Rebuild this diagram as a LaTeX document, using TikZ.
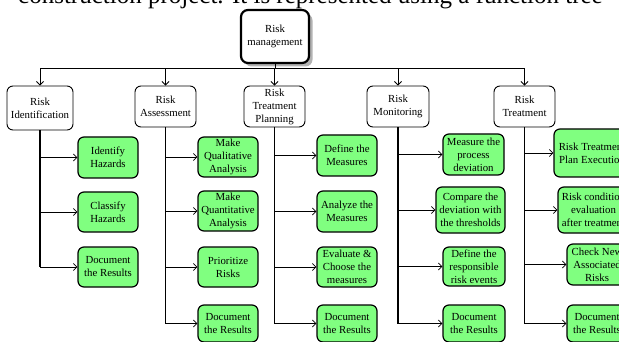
\documentclass[tikz,border=0pt]{standalone}
\usepackage{fontspec}
\setmainfont{Liberation Serif}
\usetikzlibrary{arrows.meta,shadows}
\definecolor{leafgreen}{RGB}{128,255,128}
\tikzset{
  root/.style={draw, line width=2.2pt, rounded corners=7pt, fill=white,
    align=center, inner sep=1pt, minimum width=68pt, minimum height=53pt,
    drop shadow={shadow xshift=3.5pt, shadow yshift=-3.5pt, fill=gray!60, opacity=1}},
  phase/.style={draw, line width=0.9pt, rounded corners=6pt, fill=white,
    align=center, inner sep=1pt, minimum height=41pt},
  leaf/.style={draw, line width=1.2pt, rounded corners=6pt, fill=leafgreen,
    align=center, inner sep=1pt},
  stem/.style={line width=1.3pt},
  branch/.style={line width=0.8pt, -{Straight Barb[length=3.5pt,width=7pt]}},
  down/.style={line width=0.8pt, -{Straight Barb[length=3.5pt,width=7pt]}},
}
\begin{document}
\begin{tikzpicture}[x=1pt, y=-1pt, font=\fontsize{10.8}{13}\selectfont]
\clip (0,0) rectangle (619,342);

% running text of the surrounding page
\node[anchor=base west, inner sep=0pt, font=\fontsize{25}{30}\selectfont]
  (caption) at (18,4) {construction project. It is represented using a function tree};

% root
\node[root] (top) at (275,36.5) {Risk\\management};

% phases
\node[phase, minimum width=66pt, minimum height=44pt] (l1) at (40,108) {Risk\\Identification};
\node[phase, minimum width=61pt] (l2) at (165.5,106.5) {Risk\\Assessment};
\node[phase, minimum width=61pt] (l3) at (274.5,106.5) {Risk\\Treatment\\Planning};
\node[phase, minimum width=62pt] (l4) at (398,106.5) {Risk\\Monitoring};
\node[phase, minimum width=61pt] (l5) at (524.5,106.5) {Risk\\Treatment};

% root to phases
\draw[line width=0.9pt] (top.south) -- ++(0,4) coordinate (hub);
\draw[line width=0.9pt] (l1.north |- hub) -- (l5.north |- hub);
\foreach \p in {l1,l2,l3,l4,l5}
  \draw[down] (\p.north |- hub) -- (\p.north);

% Risk Identification tasks
\node[leaf, minimum width=60pt, minimum height=41pt] (c1a) at (108,157.5) {Identify\\Hazards};
\node[leaf, minimum width=60pt, minimum height=40pt] (c1b) at (108,212) {Classify\\Hazards};
\node[leaf, minimum width=60pt, minimum height=40pt] (c1c) at (108,267) {Document\\the Results};

% Risk Assessment tasks
\node[leaf, minimum width=60pt, minimum height=40pt] (c2a) at (228,157) {Make\\Qualitative\\Analysis};
\node[leaf, minimum width=60pt, minimum height=40pt] (c2b) at (228,211) {Make\\Quantitative\\Analysis};
\node[leaf, minimum width=60pt, minimum height=40pt] (c2c) at (228,267) {Prioritize\\Risks};
\node[leaf, minimum width=60pt, minimum height=37pt] (c2d) at (228,323.5) {Document\\the Results};

% Risk Treatment Planning tasks
\node[leaf, minimum width=60pt, minimum height=41pt] (c3a) at (347,155.5) {Define the\\Measures};
\node[leaf, minimum width=60pt, minimum height=41pt] (c3b) at (347,211.5) {Analyze the\\Measures};
\node[leaf, minimum width=60pt, minimum height=40pt] (c3c) at (347,267) {Evaluate \&\\Choose the\\measures};
\node[leaf, minimum width=60pt, minimum height=37pt] (c3d) at (347,323.5) {Document\\the Results};

% Risk Monitoring tasks
\node[leaf, minimum width=61pt, minimum height=41pt] (c4a) at (473.5,154.5) {Measure the\\process\\deviation};
\node[leaf, minimum width=69pt, minimum height=46pt] (c4b) at (470.5,210) {Compare the\\deviation with\\the thresholds};
\node[leaf, minimum width=62pt, minimum height=39pt] (c4c) at (474,266.5) {Define the\\responsible\\risk events};
\node[leaf, minimum width=62pt, minimum height=37pt] (c4d) at (474,323.5) {Document\\the Results};

% Risk Treatment tasks
\node[leaf, minimum width=76pt, minimum height=48pt] (c5a) at (592,153) {Risk Treatment\\Plan Execution};
\node[leaf, minimum width=71pt, minimum height=46pt] (c5b) at (593.5,210) {Risk condition\\evaluation\\after treatment};
\node[leaf, minimum width=60pt, minimum height=41pt] (c5c) at (597,264.5) {Check New\\Associated\\Risks};
\node[leaf, minimum width=60pt, minimum height=37pt] (c5d) at (597,323.5) {Document\\the Results};

% stems and branches
\draw[stem] (l1.south) -- (l1.south |- c1c.west);
\foreach \c in {c1a,c1b,c1c} \draw[branch] (l1.south |- \c.west) -- (\c.west);
\draw[stem] (l2.south) -- (l2.south |- c2d.west);
\foreach \c in {c2a,c2b,c2c,c2d} \draw[branch] (l2.south |- \c.west) -- (\c.west);
\draw[stem] (l3.south) -- (l3.south |- c3d.west);
\foreach \c in {c3a,c3b,c3c,c3d} \draw[branch] (l3.south |- \c.west) -- (\c.west);
\draw[stem] (l4.south) -- (l4.south |- c4d.west);
\foreach \c in {c4a,c4b,c4c,c4d} \draw[branch] (l4.south |- \c.west) -- (\c.west);
\draw[stem] (l5.south) -- (l5.south |- c5d.west);
\foreach \c in {c5a,c5b,c5c,c5d} \draw[branch] (l5.south |- \c.west) -- (\c.west);
\end{tikzpicture}
\end{document}
